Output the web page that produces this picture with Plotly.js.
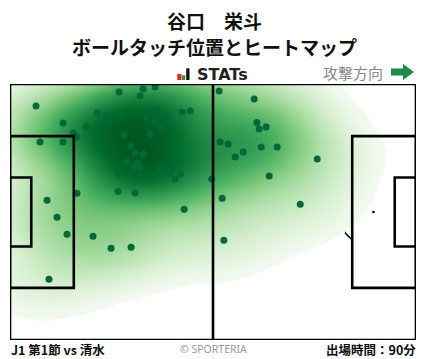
<!DOCTYPE html>
<html>
<head>
<meta charset="utf-8">
<script src="https://cdn.plot.ly/plotly-3.0.1.min.js"></script>
<style>
html,body{margin:0;padding:0;background:#fff;}
#chart{width:428px;height:359px;}
</style>
</head>
<body>
<div id="chart"></div>
<script>
// Ball-touch positions (metres; x = 0..105 attacking left->right, y = 0..68 from bottom)
const touchX = [6.73,28.21,34.42,37.53,33.65,13.72,19.67,22.52,24.85,25.36,28.99,38.10,40.43,44.57,46.59,35.20,37.32,39.39,16.30,17.18,7.76,13.72,29.50,36.28,23.81,31.32,32.35,34.52,30.28,32.82,33.65,31.83,42.50,38.74,41.41,44.05,42.70,28.21,34.21,52.15,17.34,27.95,32.35,45.03,9.58,12.16,14.75,21.48,26.14,31.32,10.09,54.09,63.15,63.85,64.44,66.25,54.35,56.42,60.30,58.23,64.96,69.10,79.45,67.03,54.87,75.06,55.31];
const touchY = [62.15,65.90,66.67,67.20,64.81,57.63,56.57,60.29,59.76,57.63,59.76,61.35,59.52,60.55,60.82,58.99,57.92,56.83,54.97,53.91,52.58,52.58,54.46,54.70,50.71,51.51,49.68,49.38,47.26,47.02,45.93,45.48,48.61,45.08,44.33,44.09,42.74,44.09,43.27,42.74,39.01,39.54,39.04,34.76,37.10,32.62,28.10,27.58,24.39,24.65,16.14,66.14,64.01,57.79,56.03,56.57,52.58,52.04,49.92,48.58,51.25,51.25,48.06,43.53,37.68,36.09,26.51];

const titleLines = ['谷口　栄斗', 'ボールタッチ位置とヒートマップ'];
const matchLabel = 'J1 第1節 vs 清水';
const minutesLabel = '出場時間：90分';
const creditLabel = '© SPORTERIA';
const directionLabel = '攻撃方向';
const brandLabel = 'STATs';

const PITCH_L = 105, PITCH_W = 68;
// Greens palette, stops spread so that mid/dark tones cover more of the range
const greens = [[0,'#f3faf1'],[0.03,'#e5f5e0'],[0.10,'#c7e9c0'],[0.20,'#a1d99b'],[0.32,'#74c476'],[0.46,'#41ab5d'],[0.62,'#238b45'],[0.80,'#006d2c'],[1,'#00561f']];
const THRESH = 0.016;
const BW_ADJUST = 1.15;

// Gaussian KDE (Scott bandwidth x adjust, full covariance) of the touch positions
function kde(xs, ys, gx, gy){
  const n = xs.length;
  let mx=0,my=0; for(let i=0;i<n;i++){mx+=xs[i];my+=ys[i];} mx/=n; my/=n;
  let sxx=0,syy=0,sxy=0;
  for(let i=0;i<n;i++){const dx=xs[i]-mx,dy=ys[i]-my; sxx+=dx*dx; syy+=dy*dy; sxy+=dx*dy;}
  sxx/=(n-1); syy/=(n-1); sxy/=(n-1);
  const f2 = Math.pow(n,-1/3)*BW_ADJUST*BW_ADJUST;
  const cxx=sxx*f2, cyy=syy*f2, cxy=sxy*f2;
  const det=cxx*cyy-cxy*cxy;
  const ixx=cyy/det, iyy=cxx/det, ixy=-cxy/det;
  const z=[]; let zmax=0;
  for(let j=0;j<gy.length;j++){
    const row=[];
    for(let k=0;k<gx.length;k++){
      let s=0;
      for(let i=0;i<n;i++){
        const dx=gx[k]-xs[i], dy=gy[j]-ys[i];
        s+=Math.exp(-0.5*(ixx*dx*dx+2*ixy*dx*dy+iyy*dy*dy));
      }
      row.push(s); if(s>zmax) zmax=s;
    }
    z.push(row);
  }
  return {z, zmax};
}

const gx=[], gy=[];
for(let k=0;k<=210;k++) gx.push(k*PITCH_L/210);
for(let j=0;j<=136;j++) gy.push(j*PITCH_W/136);
const dens = kde(touchX, touchY, gx, gy);
const zn = dens.z.map(r=>r.map(v=>{const t=v/dens.zmax; return t>=THRESH? t : null;}));

const heat = {
  type:'heatmap', x:gx, y:gy, z:zn, colorscale:greens, zmin:THRESH, zmax:1,
  zsmooth:'best', showscale:false, hoverinfo:'skip'
};
const dots = {
  type:'scatter', mode:'markers', x:touchX, y:touchY,
  marker:{size:7, color:'#00693a'}, hoverinfo:'skip'
};

const LW = 2.6, LC = '#000';
function rect(x0,y0,x1,y1,layer){return {type:'rect',xref:'x',yref:'y',x0,y0,x1,y1,line:{color:LC,width:LW},layer:layer||'above'};}
function line(x0,y0,x1,y1,layer){return {type:'line',xref:'x',yref:'y',x0,y0,x1,y1,line:{color:LC,width:LW},layer:layer||'above'};}
function spot(cx,cy,r,layer){return {type:'circle',xref:'x',yref:'y',x0:cx-r,x1:cx+r,y0:cy-r*0.98,y1:cy+r*0.98,fillcolor:LC,line:{width:0},layer:layer||'below'};}
function arcPath(cx,cy,r,a0,a1){
  let p=''; const N=40;
  for(let i=0;i<=N;i++){const a=(a0+(a1-a0)*i/N)*Math.PI/180; p+=(i?'L':'M')+(cx+r*Math.cos(a)).toFixed(3)+','+(cy+r*Math.sin(a)).toFixed(3);}
  return {type:'path',xref:'x',yref:'y',path:p,line:{color:LC,width:LW*0.6},layer:'below'};
}
const cy = PITCH_W/2;
const ang = Math.acos(5.5/9.15)*180/Math.PI;
const shapes = [
  arcPath(11,cy,9.15,-ang,ang),
  arcPath(94,cy,9.15,180-ang,180+ang),
  arcPath(52.5,cy,9.15,0,360),
  spot(11,cy,0.35), spot(94,cy,0.35), spot(52.5,cy,0.35),
  rect(0,0,PITCH_L,PITCH_W),
  line(52.5,0,52.5,PITCH_W),
  rect(0,cy-20.16,16.5,cy+20.16),
  rect(0,cy-9.16,5.5,cy+9.16),
  rect(PITCH_L-16.5,cy-20.16,PITCH_L,cy+20.16),
  rect(PITCH_L-5.5,cy-9.16,PITCH_L,cy+9.16)
];
// px helpers (plot area: x 10..416, y 84..340)
const PX=(px)=>(px-10)/406, PY=(py)=>(340-py)/256;
// STATs logo bars
shapes.push({type:'rect',xref:'paper',yref:'paper',x0:PX(177.3),x1:PX(181.5),y0:PY(80),y1:PY(74),fillcolor:'#e2231a',line:{width:0}});
shapes.push({type:'rect',xref:'paper',yref:'paper',x0:PX(182),x1:PX(185.2),y0:PY(80),y1:PY(75.3),fillcolor:'#15a04a',line:{width:0}});
shapes.push({type:'rect',xref:'paper',yref:'paper',x0:PX(186.2),x1:PX(189.5),y0:PY(80),y1:PY(68.3),fillcolor:'#111',line:{width:0}});
// direction arrow
shapes.push({type:'path',xref:'paper',yref:'paper',
  path:`M${PX(391)},${PY(68.5)} L${PX(403)},${PY(68.5)} L${PX(403)},${PY(64)} L${PX(414)},${PY(72)} L${PX(403)},${PY(80)} L${PX(403)},${PY(75.5)} L${PX(391)},${PY(75.5)} Z`,
  fillcolor:'#1b8a46',line:{width:0}});

const CJK = '"Noto Sans CJK JP", "Noto Sans", sans-serif';
const annotations = [
  {text:'<b>'+titleLines[0]+'</b>', xref:'paper',yref:'paper',x:PX(214),y:PY(20.5),xanchor:'center',yanchor:'middle',showarrow:false,font:{family:CJK,size:19,color:'#111'}},
  {text:'<b>'+titleLines[1]+'</b>', xref:'paper',yref:'paper',x:PX(214),y:PY(46),xanchor:'center',yanchor:'middle',showarrow:false,font:{family:CJK,size:19,color:'#111'}},
  {text:'<b>'+brandLabel+'</b>', xref:'paper',yref:'paper',x:PX(195),y:PY(74),xanchor:'left',yanchor:'middle',showarrow:false,font:{family:'"DejaVu Sans", sans-serif',size:16,color:'#222'}},
  {text:directionLabel, xref:'paper',yref:'paper',x:PX(385),y:PY(72),xanchor:'right',yanchor:'middle',showarrow:false,font:{family:CJK,size:15,color:'#888'}},
  {text:'<b>'+matchLabel+'</b>', xref:'paper',yref:'paper',x:PX(9),y:PY(349),xanchor:'left',yanchor:'middle',showarrow:false,font:{family:CJK,size:12.5,color:'#111'}},
  {text:creditLabel, xref:'paper',yref:'paper',x:PX(213),y:PY(348.5),xanchor:'center',yanchor:'middle',showarrow:false,font:{family:'"Noto Sans", sans-serif',size:10.5,color:'#999'}},
  {text:'<b>'+minutesLabel+'</b>', xref:'paper',yref:'paper',x:PX(418),y:PY(349),xanchor:'right',yanchor:'middle',showarrow:false,font:{family:CJK,size:12.5,color:'#111'}}
];

const layout = {
  width:428, height:359,
  margin:{l:10,r:12,t:84,b:19,pad:0},
  paper_bgcolor:'#fff', plot_bgcolor:'#fff',
  xaxis:{range:[0,PITCH_L],visible:false,fixedrange:true},
  yaxis:{range:[0,PITCH_W],visible:false,fixedrange:true},
  shapes, annotations, showlegend:false
};
Plotly.newPlot('chart',[heat,dots],layout,{staticPlot:true,displayModeBar:false});
</script>
</body>
</html>
